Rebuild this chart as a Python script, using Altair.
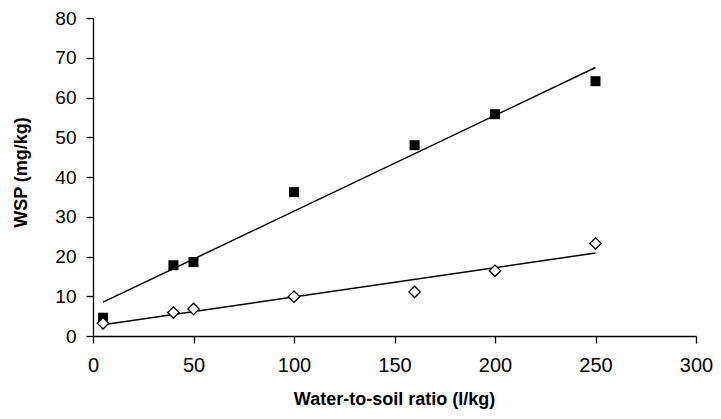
import altair as alt
import pandas as pd

ratio = [5, 40, 50, 100, 160, 200, 250]
wsp_square = [4.6, 17.8, 18.6, 36.2, 48.0, 55.8, 64.1]
wsp_diamond = [3.2, 5.9, 6.8, 9.9, 11.1, 16.4, 23.3]
x_ticks = [0, 50, 100, 150, 200, 250, 300]
y_ticks = [0, 10, 20, 30, 40, 50, 60, 70, 80]

df_sq = pd.DataFrame({"x": ratio, "y": wsp_square})
df_di = pd.DataFrame({"x": ratio, "y": wsp_diamond})

FONT = "Liberation Sans"

xs = alt.Scale(domain=[0, 300], nice=False, zero=True)
ys = alt.Scale(domain=[0, 80], nice=False, zero=True)

x_axis = alt.Axis(
    values=x_ticks,
    title="Water-to-soil ratio (l/kg)",
    grid=False, domainColor="black", tickColor="black", tickSize=7,
    labelFont=FONT, labelFontSize=20, labelColor="black", labelPadding=12,
    labelOverlap=False, labelFlush=False,
    titleFont=FONT, titleFontSize=18, titleFontWeight="bold", titleColor="black",
    titleX=301, titleY=63, titleBaseline="middle",
    domainWidth=1.3, tickWidth=1.3,
)
y_axis = alt.Axis(
    values=y_ticks,
    title="WSP (mg/kg)",
    grid=False, domainColor="black", tickColor="black", tickSize=7,
    labelFont=FONT, labelFontSize=19, labelColor="black", labelPadding=10,
    labelOverlap=False, labelFlush=False,
    titleFont=FONT, titleFontSize=18, titleFontWeight="bold", titleColor="black",
    titleX=-72, titleY=154, titleBaseline="middle", titleAngle=-90,
    domainWidth=1.3, tickWidth=1.3,
)

X = alt.X("x:Q", scale=xs, axis=x_axis)
Y = alt.Y("y:Q", scale=ys, axis=y_axis)

base_sq = alt.Chart(df_sq)
base_di = alt.Chart(df_di)

squares = base_sq.mark_point(shape="square", filled=True, color="black", size=100, opacity=1).encode(x=X, y=Y)
diamonds = base_di.mark_point(shape="diamond", filled=True, fill="white", stroke="black",
                              strokeWidth=1.3, size=130, opacity=1).encode(x=X, y=Y)
line_sq = base_sq.transform_regression("x", "y", extent=[5, 250]).mark_line(
    color="black", strokeWidth=1.5).encode(x=X, y=Y)
line_di = base_di.transform_regression("x", "y", extent=[5, 250]).mark_line(
    color="black", strokeWidth=1.5).encode(x=X, y=Y)

chart = alt.layer(line_sq, line_di, squares, diamonds).properties(
    width=603, height=318,
    autosize=alt.AutoSizeParams(type="none"),
    padding={"left": 85, "top": 10, "right": 17, "bottom": 75},
    background="white",
).configure_view(stroke=None)

chart.save("out.html", embed_options={"renderer": "svg", "actions": False})
